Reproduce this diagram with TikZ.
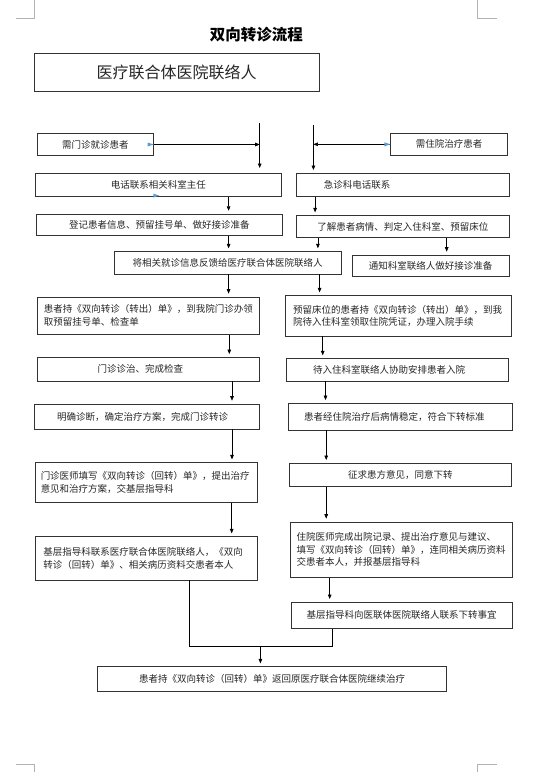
\documentclass[tikz,border=0pt]{standalone}
\usepackage{fontspec}
\setmainfont{Noto Sans CJK SC}
\usetikzlibrary{arrows.meta}
\definecolor{tipblue}{RGB}{91,155,213}
\newcommand\flowfont{\fontsize{9.5}{12.6}\selectfont}
\tikzset{
  box/.style={draw=black!80, line width=0.6pt, font=\flowfont, text=black!85, inner ysep=0pt, align=center},
  lbox/.style={box, align=left},
  arr/.style={-{Triangle[length=4.5pt,width=3.6pt]}, line width=0.6pt, shorten >=3pt},
  cropmark/.style={draw=gray!60, line width=0.5pt}
}

\begin{document}
\begin{tikzpicture}[x=1pt, y=-1pt]
  \useasboundingbox (0,0) rectangle (543,772);
  % page corners
  \draw[cropmark] (15.9,18.3) -- (34.6,18.3) -- (34.6,0);
  \draw[cropmark] (477.2,0) -- (477.2,18.3) -- (497,18.3);
  \draw[cropmark] (15.9,764) -- (34.6,764) -- (34.6,772);
  \draw[cropmark] (497,764) -- (477.2,764) -- (477.2,772);

  \node[font=\fontsize{15.5}{15.5}\selectfont\bfseries] (title) at (256.3,35) {双向转诊流程};
  \node[box, font=\fontsize{16}{16}\selectfont, line width=0.8pt, minimum width=285.4pt, minimum height=38.4pt] (lxr) at (176.6,72.5) {医疗联合体医院联络人};

  % left and right columns
  \node[box, minimum width=116pt, minimum height=22.4pt] (menzhen) at (95.4,144.5) {需门诊就诊患者};
  \node[box, minimum width=116.7pt, minimum height=22pt] (zhuyuan) at (449,144.3) {需住院治疗患者};
  \node[box, minimum width=245.9pt, minimum height=23pt] (dianhua) at (158.3,184.8) {电话联系相关科室主任};
  \node[lbox, minimum width=213.6pt, minimum height=23pt, text width=158.2pt, inner xsep=27.7pt] (jizhen) at (402.9,184.8) {急诊科电话联系};
  \node[box, minimum width=245.8pt, minimum height=21.3pt] (dengji) at (159.3,224.7) {登记患者信息、预留挂号单、做好接诊准备};
  \node[box, minimum width=213.6pt, minimum height=21.6pt] (liaojie) at (402.9,226.5) {了解患者病情、判定入住科室、预留床位};
  \node[box, minimum width=226.8pt, minimum height=22.3pt] (fankui) at (227.7,262.8) {将相关就诊信息反馈给医疗联合体医院联络人};
  \node[box, minimum width=156.8pt, minimum height=21.7pt] (tongzhi) at (430.6,265.8) {通知科室联络人做好接诊准备};
  \node[lbox, minimum width=222.3pt, minimum height=37.3pt, text width=209.3pt, inner xsep=6.5pt] (zhuanchuL) at (148.5,315.6) {患者持《双向转诊（转出）单》，到我院门诊办领\\取预留挂号单、检查单};
  \node[lbox, minimum width=225.1pt, minimum height=40.3pt, text width=210.1pt, inner xsep=7.5pt] (zhuanchuR) at (398.25,315.85) {预留床位的患者持《双向转诊（转出）单》，到我\\院待入住科室领取住院凭证，办理入院手续};
  \node[lbox, minimum width=222.3pt, minimum height=23.7pt, text width=101.9pt, inner xsep=60.2pt] (zhenzhi) at (148.5,369.2) {门诊诊治、完成检查};
  \node[lbox, minimum width=221.7pt, minimum height=22.3pt, text width=168.7pt, inner xsep=26.5pt] (anpai) at (397.5,369.8) {待入住科室联络人协助安排患者入院};
  \node[lbox, minimum width=225.1pt, minimum height=25pt, text width=180.3pt, inner xsep=22.4pt] (zhenduan) at (147.2,416.5) {明确诊断，确定治疗方案，完成门诊转诊};
  \node[lbox, minimum width=224.4pt, minimum height=26.7pt, text width=192.6pt, inner xsep=15.9pt] (wending) at (400.3,416.7) {患者经住院治疗后病情稳定，符合下转标准};
  \node[lbox, minimum width=222.3pt, minimum height=40pt, text width=210.9pt, inner xsep=5.7pt] (huizhuanL) at (146.2,482.7) {门诊医师填写《双向转诊（回转）单》，提出治疗\\意见和治疗方案，交基层指导科};
  \node[box, minimum width=222.3pt, minimum height=23.4pt] (yijian) at (400.3,475) {征求患方意见，同意下转};
  \node[lbox, minimum width=222.3pt, minimum height=43.3pt, text width=205.7pt, inner xsep=8.3pt] (lianxiL) at (146.2,558.3) {基层指导科联系医疗联合体医院联络人，《双向\\转诊（回转）单》、相关病历资料交患者本人};
  \node[lbox, minimum width=222.3pt, minimum height=55.3pt, text width=209.3pt, inner xsep=6.5pt] (chuyuan) at (401.35,549.6) {住院医师完成出院记录、提出治疗意见与建议、\\填写《双向转诊（回转）单》，连同相关病历资料\\交患者本人，并报基层指导科};
  \node[box, minimum width=221.6pt, minimum height=26pt] (xiazhuan) at (401.7,615.3) {基层指导科向医联体医院联络人联系下转事宜};
  \node[box, minimum width=349pt, minimum height=25pt] (fanhui) at (272.2,679.2) {患者持《双向转诊（回转）单》返回原医疗联合体医院继续治疗};

  % entry lines
  \coordinate (inL) at (259.7,123.3);
  \coordinate (inR) at (313.4,125);
  \draw[arr, shorten >=5pt] (inL) -- (dianhua.north -| inL);
  \draw[arr, shorten >=0pt] (menzhen.east) -- (menzhen.east -| inL);
  \draw[arr] (inR) -- (jizhen.north -| inR);
  \draw[arr, shorten >=0pt] (zhuyuan.west) -- (zhuyuan.west -| inR);
  \fill[tipblue] ([xshift=-6pt,yshift=2pt]menzhen.east) -- (menzhen.east) -- ([xshift=-6pt,yshift=-2pt]menzhen.east) -- cycle;
  \fill[tipblue] ([xshift=-5pt,yshift=3pt]dianhua.south) -- ([xshift=1pt,yshift=1pt]dianhua.south) -- ([xshift=-5pt,yshift=-1pt]dianhua.south) -- cycle;
  \fill[tipblue] ([xshift=-6pt,yshift=2pt]zhuyuan.west) -- (zhuyuan.west) -- ([xshift=-6pt,yshift=-2pt]zhuyuan.west) -- cycle;

  % steps
  \foreach \a/\b/\x in {dianhua/dengji/228.6, jizhen/liaojie/315.1, dengji/fankui/228.6,
      liaojie/fankui/317.9, liaojie/tongzhi/446.7, fankui/zhuanchuL/228.6, fankui/zhuanchuR/319.6,
      zhuanchuL/zhenzhi/229.3, zhuanchuR/anpai/322.7, zhenzhi/zhenduan/232, anpai/wending/325.5,
      zhenduan/huizhuanL/232, wending/yijian/326.2, huizhuanL/lianxiL/231.7, yijian/chuyuan/326.2,
      chuyuan/xiazhuan/329.7}
  {
    \coordinate (col) at (\x,0);
    \draw[arr] (\a.south -| col) -- (\b.north -| col);
  }

  % merge to the last step
  \coordinate (mergeL) at (189,646.7);
  \coordinate (mergeR) at (332.4,646.7);
  \coordinate (merge) at (260.4,646.7);
  \draw[line width=0.6pt] (lianxiL.south -| mergeL) -- (mergeL) -- (mergeR) -- (xiazhuan.south -| mergeR);
  \draw[arr] (merge) -- (fanhui.north -| merge);
\end{tikzpicture}
\end{document}
